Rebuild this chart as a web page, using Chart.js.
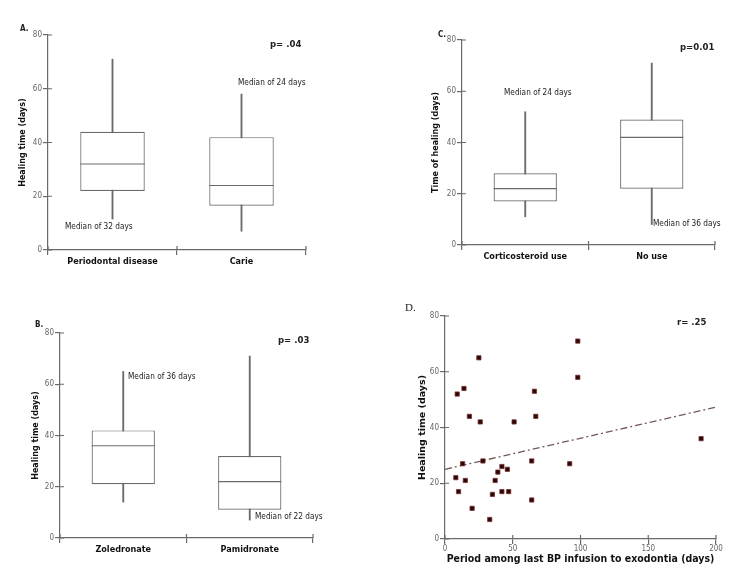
<!DOCTYPE html>
<html>
<head>
<meta charset="utf-8">
<script src="https://cdn.jsdelivr.net/npm/chart.js@4.4.1/dist/chart.umd.min.js"></script>
<style>
  body { margin: 0; background: #fff; }
  #page { position: relative; width: 743px; height: 574px; overflow: hidden; }
  canvas { position: absolute; }
</style>
</head>
<body>
<div id="page">
  <canvas id="chartA"></canvas>
  <canvas id="chartB"></canvas>
  <canvas id="chartC"></canvas>
  <canvas id="chartD"></canvas>
</div>
<script>
// panel A: healing time by cause of extraction
const catsA = ['Periodontal disease', 'Carie'];
const minA = [11.5, 7];
const q1A = [22, 16.5];
const medA = [32, 24];
const q3A = [44, 42];
const maxA = [71, 58];

// panel B: healing time by bisphosphonate
const catsB = ['Zoledronate', 'Pamidronate'];
const minB = [14, 7];
const q1B = [21, 11];
const medB = [36, 22];
const q3B = [42, 32];
const maxB = [65, 71];

// panel C: healing time by corticosteroid use
const catsC = ['Corticosteroid use', 'No use'];
const minC = [11, 8];
const q1C = [17, 22];
const medC = [22, 42];
const q3C = [28, 49];
const maxC = [52, 71];

// panel D: period since last infusion vs healing time
const periodDays = [9, 14, 25, 18, 26, 51, 66, 67, 98, 98, 13, 28, 8, 15, 10, 20, 33, 35, 37, 39, 42, 46, 42, 47, 64, 64, 92, 189];
const healDays   = [52, 54, 65, 44, 42, 42, 53, 44, 71, 58, 27, 28, 22, 21, 17, 11, 7, 16, 21, 24, 26, 25, 17, 17, 28, 14, 27, 36];
const trendX = [0, 200];
const trendY = [25, 47.3];

const LINE = '#6a6a6a';
const SANS = '"DejaVu Sans", Verdana, sans-serif';
const COND = '"DejaVu Sans Condensed", "DejaVu Sans", sans-serif';

Chart.defaults.font.family = COND;
Chart.defaults.color = '#222';

function place(id, box)
{
	const cv = document.getElementById(id);
	cv.width = box.w;
	cv.height = box.h;
	cv.style.left = box.l + 'px';
	cv.style.top = box.t + 'px';
	return cv.getContext('2d');
}

function notesPlugin(box, notes)
{
	return {
		id: 'notes',
		afterDraw(chart)
		{
			const ctx = chart.ctx;
			ctx.save();
			ctx.textBaseline = 'middle';
			ctx.textAlign = 'left';
			notes.forEach(n => {
				ctx.font = n.font;
				ctx.fillStyle = n.color || '#222';
				ctx.fillText(n.text, n.x - box.l, n.y - box.t);
			});
			ctx.restore();
		}
	};
}

// the original axes have tick marks that cross the axis line
const innerTicks = {
	id: 'innerTicks',
	afterDraw(chart)
	{
		const ctx = chart.ctx;
		const x = chart.scales.x;
		const y = chart.scales.y;
		ctx.save();
		ctx.strokeStyle = LINE;
		ctx.lineWidth = 1.2;
		ctx.beginPath();
		y.ticks.forEach(t => {
			const py = y.getPixelForValue(t.value);
			ctx.moveTo(y.right, py);
			ctx.lineTo(y.right + 4, py);
		});
		let xs;
		if (x.type === 'category')
		{
			xs = [];
			for (let i = 0; i <= x.getLabels().length; i++)
				xs.push(x.getPixelForValue(i - 0.5));
		}
		else
			xs = x.ticks.map(t => x.getPixelForValue(t.value));
		xs.forEach(px => {
			ctx.moveTo(px, x.top);
			ctx.lineTo(px, x.top - 4);
		});
		ctx.stroke();
		ctx.restore();
	}
};

function yAxis(yw, yTitle, titleX, box, titleSize)
{
	const lh = titleSize * 1.2;
	return {
		min: 0,
		max: 80,
		afterFit: s => { s.width = yw; },
		ticks: { stepSize: 20, color: '#666', padding: 1, font: { size: 8, family: COND } },
		grid: { drawOnChartArea: false, tickLength: 5, color: LINE, lineWidth: 1.2 },
		border: { color: LINE, width: 1.2 },
		title: {
			display: true,
			text: yTitle,
			color: '#111',
			font: { size: titleSize, weight: 'bold', family: SANS },
			padding: { top: titleX - box.l - lh / 2, bottom: 0 }
		}
	};
}

function boxChart(id, box, area, cats, mins, q1s, meds, q3s, maxs, yTitle, titleX, notes)
{
	const ctx = place(id, box);
	const yw = area.l - box.l;
	const xh = 25;
	const medianPlugin = {
		id: 'median',
		afterDatasetsDraw(chart)
		{
			const c = chart.ctx;
			const meta = chart.getDatasetMeta(0);
			c.save();
			c.strokeStyle = LINE;
			c.lineWidth = 1.2;
			meta.data.forEach((bar, i) => {
				const y = chart.scales.y.getPixelForValue(meds[i]);
				c.beginPath();
				c.moveTo(bar.x - bar.width / 2, y);
				c.lineTo(bar.x + bar.width / 2, y);
				c.stroke();
			});
			c.restore();
		}
	};
	new Chart(ctx, {
		type: 'bar',
		data: {
			labels: cats,
			datasets: [
				{
					data: cats.map((c, i) => [q1s[i], q3s[i]]),
					backgroundColor: '#ffffff',
					borderColor: LINE,
					borderWidth: 1.2,
					borderSkipped: false,
					barPercentage: 0.5,
					categoryPercentage: 1,
					grouped: false,
					order: 0
				},
				{
					data: cats.map((c, i) => [mins[i], maxs[i]]),
					backgroundColor: LINE,
					barThickness: 1.2,
					grouped: false,
					order: 1
				}
			]
		},
		options: {
			responsive: false,
			animation: false,
			layout: {
				padding: {
					left: 0,
					top: area.t - box.t,
					right: box.l + box.w - area.r,
					bottom: box.t + box.h - area.b - xh
				}
			},
			plugins: { legend: { display: false }, tooltip: { enabled: false } },
			scales: {
				x: {
					offset: true,
					afterFit: s => { s.height = xh; },
					ticks: { color: '#111', padding: 1, font: { size: 9, weight: 'bold', family: COND } },
					grid: { offset: true, drawOnChartArea: false, tickLength: 5, color: LINE, lineWidth: 1.2 },
					border: { color: LINE, width: 1.2 }
				},
				y: yAxis(yw, yTitle, titleX, box, 8)
			}
		},
		plugins: [medianPlugin, innerTicks, notesPlugin(box, notes)]
	});
}

const small = '8.2px ' + COND;
const bold = 'bold 9.5px ' + COND;
const letter = 'bold 8px ' + COND;

boxChart('chartA', { l: 0, t: 20, w: 340, h: 260 }, { l: 48, t: 35, r: 306, b: 250 },
	catsA, minA, q1A, medA, q3A, maxA, 'Healing time (days)', 23, [
		{ text: 'A.', x: 20, y: 29, font: letter },
		{ text: 'p= .04', x: 270, y: 44.5, font: bold },
		{ text: 'Median of 32 days', x: 65, y: 227, font: small },
		{ text: 'Median of 24 days', x: 238, y: 83, font: small }
	]);

boxChart('chartC', { l: 370, t: 20, w: 373, h: 260 }, { l: 462, t: 40, r: 715, b: 245 },
	catsC, minC, q1C, medC, q3C, maxC, 'Time of healing (days)', 436, [
		{ text: 'C.', x: 438, y: 35, font: letter },
		{ text: 'p=0.01', x: 680, y: 48, font: bold },
		{ text: 'Median of 24 days', x: 504, y: 93, font: small },
		{ text: 'Median of 36 days', x: 653, y: 224, font: small }
	]);

boxChart('chartB', { l: 0, t: 300, w: 340, h: 274 }, { l: 60, t: 333, r: 313, b: 538 },
	catsB, minB, q1B, medB, q3B, maxB, 'Healing time (days)', 36, [
		{ text: 'B.', x: 35, y: 325, font: letter },
		{ text: 'p= .03', x: 278, y: 341, font: bold },
		{ text: 'Median of 36 days', x: 128, y: 377, font: small },
		{ text: 'Median of 22 days', x: 255, y: 517, font: small }
	]);

// scatter panel
(function ()
{
	const box = { l: 370, t: 300, w: 373, h: 274 };
	const area = { l: 445, t: 316, r: 716, b: 539 };
	const ctx = place('chartD', box);
	const xh = box.t + box.h - area.b;
	const titleSize = 10.5;
	new Chart(ctx, {
		type: 'scatter',
		data: {
			datasets: [
				{
					data: periodDays.map((d, i) => ({ x: d, y: healDays[i] })),
					pointStyle: 'rect',
					pointRadius: 3,
					backgroundColor: '#2a0707',
					borderColor: '#7a3030',
					borderWidth: 0.8
				},
				{
					type: 'line',
					data: trendX.map((d, i) => ({ x: d, y: trendY[i] })),
					borderColor: '#735858',
					borderWidth: 1.3,
					borderDash: [7, 3, 2, 3],
					pointRadius: 0,
					fill: false
				}
			]
		},
		options: {
			responsive: false,
			animation: false,
			layout: {
				padding: { left: 0, top: area.t - box.t, right: box.l + box.w - area.r, bottom: 0 }
			},
			plugins: { legend: { display: false }, tooltip: { enabled: false } },
			scales: {
				x: {
					type: 'linear',
					min: 0,
					max: 200,
					afterFit: s => { s.height = xh; },
					ticks: { stepSize: 50, color: '#666', padding: 0, font: { size: 8, family: COND } },
					grid: { drawOnChartArea: false, tickLength: 5, color: LINE, lineWidth: 1.2 },
					border: { color: LINE, width: 1.2 },
					title: {
						display: true,
						text: 'Period among last BP infusion to exodontia (days)',
						color: '#111',
						font: { size: titleSize, weight: 'bold', family: COND },
						padding: { top: 0, bottom: 574 - 559 - titleSize * 0.6 }
					}
				},
				y: yAxis(area.l - box.l, 'Healing time (days)', 423, box, 9.5)
			}
		},
		plugins: [innerTicks, notesPlugin(box, [
			{ text: 'D.', x: 405, y: 308, font: '11px "Liberation Serif", serif' },
			{ text: 'r= .25', x: 677, y: 323, font: bold }
		])]
	});
})();
</script>
</body>
</html>
